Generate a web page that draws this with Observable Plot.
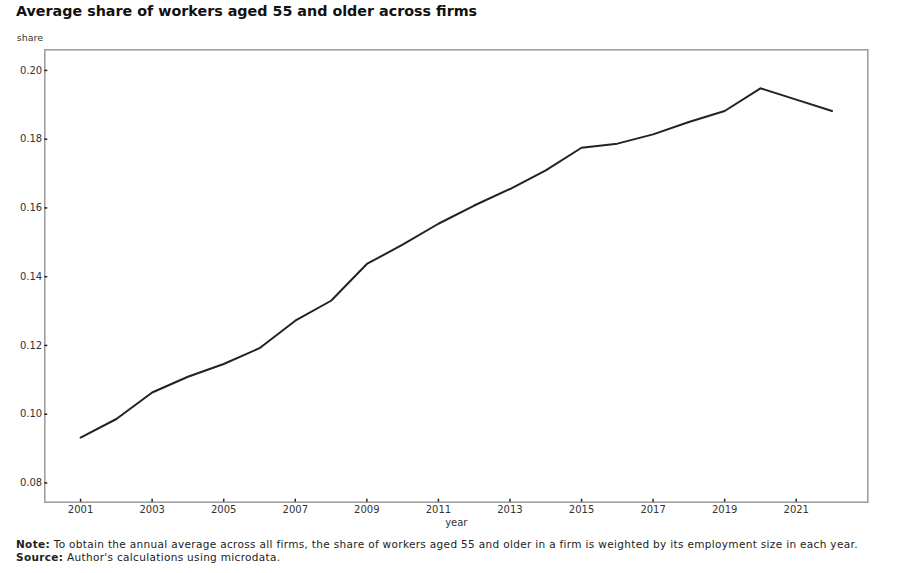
<!DOCTYPE html>
<html>
<head>
<meta charset="utf-8">
<script src="https://cdn.jsdelivr.net/npm/d3@7"></script>
<script src="https://cdn.jsdelivr.net/npm/@observablehq/plot@0.6"></script>
<style>
  body { margin: 0; background: #fff; font-family: "DejaVu Sans", sans-serif; width: 904px; height: 573px; position: relative; overflow: hidden; }
  #title { position: absolute; left: 16px; top: 2px; font-size: 14.3px; line-height: 18px; font-weight: bold; color: #111; white-space: nowrap; z-index: 2; }
  #chart { position: absolute; left: 0; top: 0; z-index: 1; }
  #note { position: absolute; left: 16px; top: 537.5px; font-size: 10.5px; letter-spacing: 0.33px; line-height: 13px; color: #222; white-space: nowrap; z-index: 2; }
</style>
</head>
<body>
<div id="title">Average share of workers aged 55 and older across firms</div>
<div id="chart"></div>
<div id="note"><b>Note:</b> To obtain the annual average across all firms, the share of workers aged 55 and older in a firm is weighted by its employment size in each year.<br><b>Source:</b> Author's calculations using microdata.</div>
<script>
const years = [2001, 2002, 2003, 2004, 2005, 2006, 2007, 2008, 2009, 2010, 2011, 2012, 2013, 2014, 2015, 2016, 2017, 2018, 2019, 2020, 2021, 2022];
const share = [0.0932, 0.0986, 0.1063, 0.1109, 0.1146, 0.1192, 0.1272, 0.1330, 0.1437, 0.1493, 0.1554, 0.1607, 0.1655, 0.1709, 0.1775, 0.1787, 0.1814, 0.1850, 0.1882, 0.1948, 0.1915, 0.1882];
const xTicks = [2001, 2003, 2005, 2007, 2009, 2011, 2013, 2015, 2017, 2019, 2021];
const yTicks = [0.08, 0.10, 0.12, 0.14, 0.16, 0.18, 0.20];
const yLabel = "share";
const xLabel = "year";

const data = years.map((y, i) => ({year: y, share: share[i]}));

const plot = Plot.plot({
  width: 904,
  height: 535,
  marginTop: 49.3,
  marginLeft: 44.3,
  marginRight: 36.7,
  marginBottom: 33.3,
  style: {background: "transparent", fontFamily: "DejaVu Sans, sans-serif", fontSize: "10px", color: "#333"},
  x: {domain: [2000, 2023], ticks: xTicks, tickFormat: d => String(d)},
  y: {domain: [0.0744, 0.206], ticks: yTicks, tickFormat: d => d.toFixed(2)},
  marks: [
    Plot.frame({stroke: "#999", strokeWidth: 1.5}),
    Plot.axisX({ticks: xTicks, tickFormat: d => String(d), tickSize: -3, tickPadding: 7, label: null, stroke: "#222", strokeWidth: 1.5, fill: "#333"}),
    Plot.axisY({ticks: yTicks, tickFormat: d => d.toFixed(2), tickSize: -3, tickPadding: 5.6, label: null, stroke: "#222", strokeWidth: 1.5, fill: "#333"}),
    Plot.text([yLabel], {text: d => d, frameAnchor: "top-left", textAnchor: "start", dx: -28, dy: -16, fontSize: 9.5, fill: "#333", style: "letter-spacing: 0.5px"}),
    Plot.text([xLabel], {text: d => d, frameAnchor: "bottom", dy: 24, fontSize: 10, fill: "#333"}),
    Plot.line(data, {x: "year", y: "share", stroke: "#222", strokeWidth: 2})
  ]
});
document.getElementById("chart").appendChild(plot);
</script>
</body>
</html>
